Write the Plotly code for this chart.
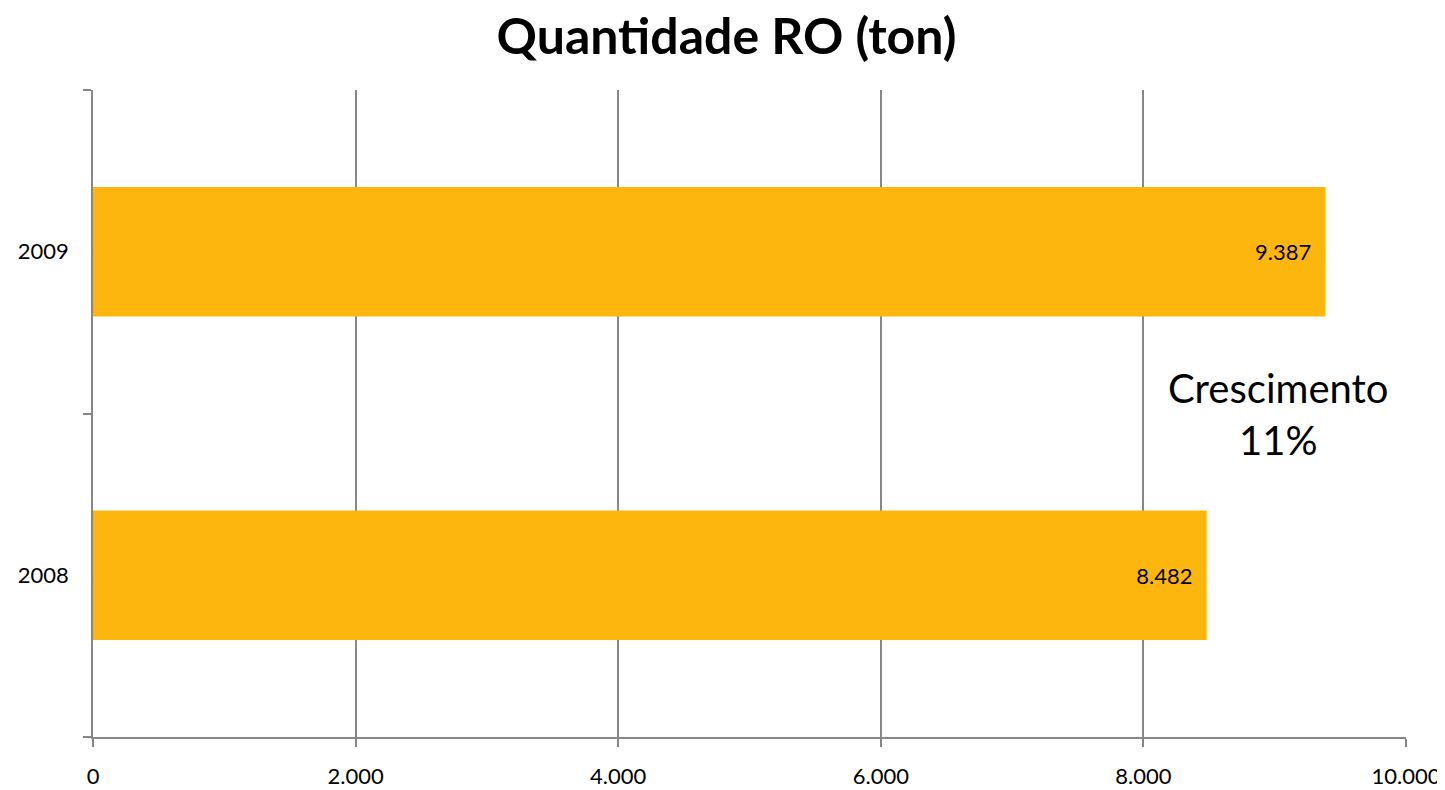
import plotly.graph_objects as go

categories = ["2008", "2009"]
values = [8482, 9387]
x_ticks = [0, 2000, 4000, 6000, 8000, 10000]
title = "Quantidade RO (ton)"
note = "Crescimento<br>11%"

FONT = "Lato, 'Open Sans', sans-serif"
GRID = "#878787"

fig = go.Figure(go.Bar(
    x=values, y=categories, orientation="h",
    marker=dict(color="#FDB60D", line=dict(width=0)),
    texttemplate="%{x:,}\u00a0\u00a0", textposition="inside", insidetextanchor="end",
    textfont=dict(family=FONT, size=22, color="black"),
    hoverinfo="skip",
))

fig.update_layout(
    width=1437, height=782,
    margin=dict(l=85, r=39, t=82, b=53),
    paper_bgcolor="white", plot_bgcolor="white",
    separators=",.",
    bargap=0.6,
    showlegend=False,
    title=dict(text=f"<b>{title}</b>", x=0.5, xanchor="center", y=0.964, yanchor="middle",
               font=dict(family=FONT, size=50, color="black")),
    xaxis=dict(range=[0, 10000], tickvals=x_ticks, tickformat=",",
               showgrid=True, gridcolor=GRID, gridwidth=1.5,
               showline=True, linecolor=GRID, linewidth=1.5,
               ticks="outside", ticklen=8, tickcolor=GRID, tickwidth=1.5,
               tickfont=dict(family=FONT, size=22, color="black"),
               ticklabelstandoff=11, zeroline=False, fixedrange=True, automargin=False),
    yaxis=dict(type="category", categoryorder="array", categoryarray=categories,
               showgrid=False, showline=True, linecolor=GRID, linewidth=1.5,
               ticks="outside", ticklen=8, tickcolor=GRID, tickwidth=1.5,
               tickson="boundaries",
               tickfont=dict(family=FONT, size=22, color="black"),
               ticklabelstandoff=18, fixedrange=True, automargin=False),
    annotations=[dict(text=note, x=9025, y=0.5, xref="x", yref="y",
                      showarrow=False, align="center",
                      font=dict(family=FONT, size=40, color="black"))],
)

fig.write_html("out.html")
